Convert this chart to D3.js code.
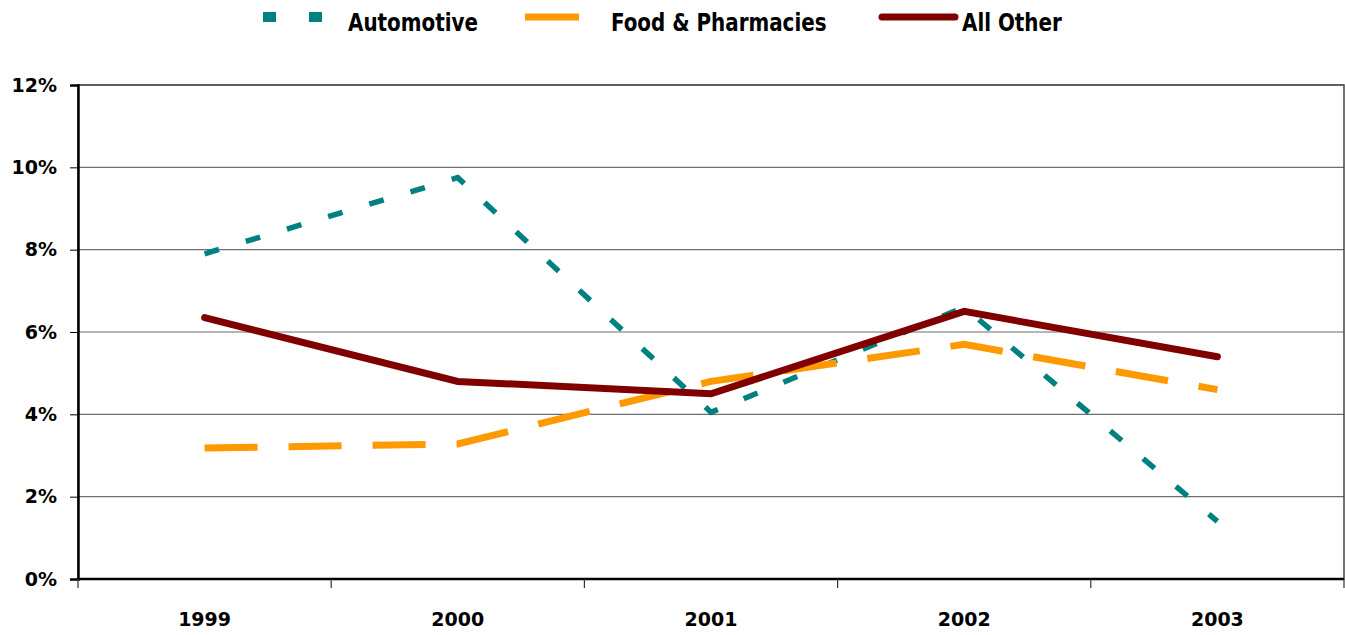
<!DOCTYPE html>
<html>
<head>
<meta charset="utf-8">
<script src="https://cdn.jsdelivr.net/npm/d3@7"></script>
<style>
  body { margin: 0; background: #fff; }
  .tick text { font-family: "DejaVu Sans", Verdana, sans-serif; font-weight: bold; }
  .legend text { font-family: "Liberation Sans Narrow", "DejaVu Sans Condensed", sans-serif; font-weight: bold; }
</style>
</head>
<body>
<div id="chart"></div>
<script>
const years = ['1999', '2000', '2001', '2002', '2003'];
const automotive = [7.9, 9.75, 4.05, 6.6, 1.4];
const foodPharmacies = [3.18, 3.28, 4.8, 5.7, 4.6];
const allOther = [6.35, 4.8, 4.5, 6.5, 5.4];
const yTicks = [0, 2, 4, 6, 8, 10, 12];

const width = 1345;
const height = 635;
const margin = { top: 85, right: 1, bottom: 56, left: 78 };

const svg = d3.select('#chart')
  .append('svg')
  .attr('width', width)
  .attr('height', height);

const x = d3.scaleBand()
  .domain(years)
  .range([margin.left, width - margin.right])
  .padding(0);

const y = d3.scaleLinear()
  .domain([0, 12])
  .range([height - margin.bottom, margin.top]);

// gridlines
svg.append('g')
  .selectAll('line')
  .data(yTicks.slice(1))
  .enter()
  .append('line')
  .attr('x1', margin.left)
  .attr('x2', width - margin.right)
  .attr('y1', d => y(d))
  .attr('y2', d => y(d))
  .attr('stroke', '#6e6e6e')
  .attr('stroke-width', 1.2);

// plot frame
svg.append('rect')
  .attr('x', margin.left)
  .attr('y', y(12))
  .attr('width', width - margin.right - margin.left)
  .attr('height', y(0) - y(12))
  .attr('fill', 'none')
  .attr('stroke', '#444')
  .attr('stroke-width', 1.5);

// y axis
const yAxis = svg.append('g')
  .attr('transform', `translate(${margin.left},0)`)
  .call(d3.axisLeft(y).tickValues(yTicks).tickFormat(d => d + '%').tickSize(8).tickPadding(13));
yAxis.select('.domain').attr('stroke', '#000').attr('stroke-width', 2.5);
yAxis.selectAll('.tick line').attr('stroke', '#000').attr('stroke-width', 1);
yAxis.selectAll('.tick text').attr('font-size', 19).attr('fill', '#000');

// x axis: tick marks on category boundaries, labels in the middle
const xAxis = svg.append('g')
  .attr('transform', `translate(0,${y(0)})`);
xAxis.append('line')
  .attr('x1', margin.left)
  .attr('x2', width - margin.right)
  .attr('stroke', '#000')
  .attr('stroke-width', 2.5);
const bounds = years.map(d => x(d)).concat([x(years[years.length - 1]) + x.bandwidth()]);
xAxis.selectAll('line.bt')
  .data(bounds)
  .enter()
  .append('line')
  .attr('class', 'bt')
  .attr('x1', d => d)
  .attr('x2', d => d)
  .attr('y1', 0)
  .attr('y2', 9)
  .attr('stroke', '#333')
  .attr('stroke-width', 1.2);
xAxis.selectAll('text')
  .data(years)
  .enter()
  .append('text')
  .attr('x', d => x(d) + x.bandwidth() / 2)
  .attr('y', 40)
  .attr('dy', '0.35em')
  .attr('text-anchor', 'middle')
  .attr('font-family', '"DejaVu Sans", Verdana, sans-serif')
  .attr('font-weight', 'bold')
  .attr('font-size', 19)
  .text(d => d);

const series = [
  { name: 'Automotive', values: automotive, color: '#008080', width: 5.5, dash: '15,28', cap: 'butt' },
  { name: 'Food & Pharmacies', values: foodPharmacies, color: '#FF9900', width: 7, dash: '53,31', cap: 'butt' },
  { name: 'All Other', values: allOther, color: '#800000', width: 7, dash: null, cap: 'round' }
];

const line = d3.line()
  .x((d, i) => x(years[i]) + x.bandwidth() / 2)
  .y(d => y(d));

series.forEach(s => {
  svg.append('path')
    .datum(s.values)
    .attr('d', line)
    .attr('fill', 'none')
    .attr('stroke', s.color)
    .attr('stroke-width', s.width)
    .attr('stroke-dasharray', s.dash)
    .attr('stroke-linecap', s.cap)
    .attr('stroke-linejoin', 'miter');
});

// legend
const legendItems = [
  { x1: 263, x2: 324, tx: 348, dash: '13,33' },
  { x1: 525, x2: 579, tx: 611, dash: null },
  { x1: 882, x2: 955, tx: 962, dash: null }
];
const legend = svg.append('g').attr('class', 'legend');
series.forEach((s, i) => {
  const it = legendItems[i];
  legend.append('line')
    .attr('x1', it.x1)
    .attr('x2', it.x2)
    .attr('y1', 17)
    .attr('y2', 17)
    .attr('stroke', s.color)
    .attr('stroke-width', s.name === 'Automotive' ? 10 : 7)
    .attr('stroke-dasharray', it.dash)
    .attr('stroke-linecap', s.cap);
  legend.append('text')
    .attr('transform', `translate(${it.tx},22) scale(0.885,1)`)
    .attr('dy', '0.35em')
    .attr('font-size', 25)
    .text(s.name);
});
</script>
</body>
</html>
